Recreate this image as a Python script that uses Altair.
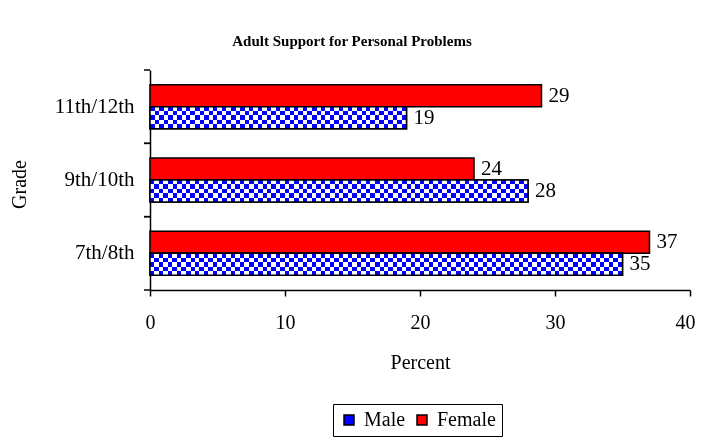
import altair as alt
import pandas as pd

# ---- data ----
grades = ["11th/12th", "9th/10th", "7th/8th"]
male = [19, 28, 35]
female = [29, 24, 37]
series = ["Male", "Female"]
colors = ["#0000FF", "#FF0000"]
x_ticks = [0, 10, 20, 30, 40]
title_text = "Adult Support for Personal Problems"

rows = []
for g, m, f in zip(grades, male, female):
    rows.append({"grade": g, "sex": "Female", "value": f, "label": str(f)})
    rows.append({"grade": g, "sex": "Male", "value": m, "label": str(m)})
df = pd.DataFrame(rows)
grade_df = pd.DataFrame({"grade": grades})

W, H = 540, 220
FONT = "Liberation Serif"
FS = 20
CELL = 4.5          # checker cell size in px
XMAX = 40
P_IN, P_OUT = 0.4, 0.2

# ---- shared encodings ----
y_scale = alt.Scale(paddingInner=P_IN, paddingOuter=P_OUT)
y_enc = alt.Y(
    "grade:N", sort=grades, title="Grade", scale=y_scale,
    axis=alt.Axis(
        ticks=False, tickSize=0,
        domainColor="black", domainWidth=1.5,
        labelFont=FONT, labelFontSize=21, labelColor="black", labelPadding=16,
        titleFont=FONT, titleFontSize=FS, titleFontWeight="normal", titleColor="black",
        titleX=-131, titleY=114, titleBaseline="middle",
    ),
)
yoff = alt.YOffset("sex:N", sort=["Female", "Male"],
                   scale=alt.Scale(paddingInner=0, paddingOuter=0))
x_enc = alt.X(
    "value:Q", title="Percent",
    scale=alt.Scale(domain=[0, XMAX], nice=False),
    axis=alt.Axis(
        values=x_ticks, grid=False, tickSize=6, tickWidth=1.5, tickColor="black",
        domainColor="black", domainWidth=1.5, labelFlush=True, labelFlushOffset=5,
        labelFont=FONT, labelFontSize=FS, labelColor="black", labelPadding=16,
        titleFont=FONT, titleFontSize=FS, titleFontWeight="normal", titleColor="black",
        titlePadding=20,
    ),
)

base = alt.Chart(df)

bars = base.mark_bar(stroke="black", strokeWidth=1.5).encode(
    x=x_enc, y=y_enc, yOffset=yoff,
    fill=alt.Fill(
        "sex:N", scale=alt.Scale(domain=series, range=colors),
        legend=alt.Legend(
            title=None, orient="none", legendX=183, legendY=334,
            direction="horizontal", strokeColor="black", fillColor="white",
            padding=6, symbolType="square", symbolSize=100,
            symbolStrokeColor="black", symbolStrokeWidth=1.5,
            labelFont=FONT, labelFontSize=FS, labelColor="black",
            columnPadding=6, labelOffset=5,
        ),
    ),
)


def vstripes(v):
    n = int(round(v * (W / XMAX) / CELL))
    stops = []
    for i in range(n):
        c = "#0000FF" if i % 2 == 0 else "#FFFFFF"
        stops.append(alt.GradientStop(color=c, offset=i / n))
        stops.append(alt.GradientStop(color=c, offset=(i + 1) / n))
    return alt.LinearGradient(gradient="linear", stops=stops, x1=0, x2=1, y1=0, y2=0)


def hstripes(n):
    stops = []
    for i in range(n):
        c = "#000000" if i % 2 == 0 else "#FFFF00"
        stops.append(alt.GradientStop(color=c, offset=i / n))
        stops.append(alt.GradientStop(color=c, offset=(i + 1) / n))
    return alt.LinearGradient(gradient="linear", stops=stops, x1=0, x2=0, y1=0, y2=1)


male_df = df[df["sex"] == "Male"]
layers = [bars]
for g, m in zip(grades, male):
    layers.append(
        alt.Chart(male_df[male_df["grade"] == g]).mark_bar(fill=vstripes(m)).encode(
            x=x_enc, y=y_enc, yOffset=yoff)
    )
layers.append(
    alt.Chart(male_df).mark_bar(fill=hstripes(5), blend="difference").encode(
        x=x_enc, y=y_enc, yOffset=yoff)
)
layers.append(
    alt.Chart(male_df).mark_bar(fillOpacity=0, stroke="black", strokeWidth=1.5).encode(
        x=x_enc, y=y_enc, yOffset=yoff)
)

labels = base.mark_text(align="left", baseline="middle", dx=7, font=FONT,
                        fontSize=21, color="black").encode(
    x=x_enc, y=y_enc, yOffset=yoff, text="label:N")
layers.append(labels)

# y-axis ticks on the category boundaries (half the inner padding outside each band)
step = H / (len(grades) - P_IN + 2 * P_OUT)
half_gap = P_IN * step / 2
for bp, off in ((0, -half_gap), (1, half_gap)):
    layers.append(
        alt.Chart(grade_df).mark_rule(color="black", strokeWidth=1.5, yOffset=off).encode(
            y=alt.Y("grade:N", sort=grades, scale=y_scale, bandPosition=bp),
            x=alt.value(-6), x2=alt.value(0))
    )

chart = alt.layer(*layers).properties(
    width=W, height=H,
    autosize="none",
    background="white",
    padding={"left": 142, "top": 62, "right": 6, "bottom": 156},
    title=alt.TitleParams(title_text, font=FONT, fontSize=15, fontWeight="bold",
                          color="black", anchor="middle", dx=-68, offset=20),
).configure_view(stroke=None)

chart.save("out.html", embed_options={"renderer": "svg", "actions": False})
